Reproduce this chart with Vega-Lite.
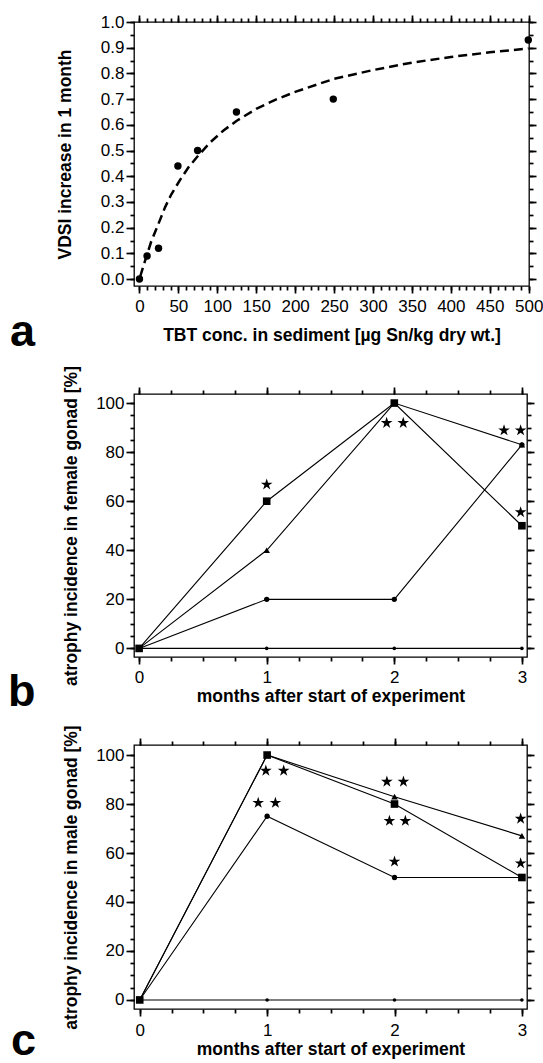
{
  "$schema": "https://vega.github.io/schema/vega-lite/v6.json",
  "padding": {"left": 7, "top": 12, "right": 0, "bottom": 0},
  "spacing": 8,
  "background": "white",
  "config": {
    "view": {"stroke": "black", "strokeWidth": 1.3},
    "font": "Liberation Sans",
    "axis": {
      "domain": false, "grid": false, "ticks": true, "tickColor": "black", "tickWidth": 1.7,
      "labelFont": "Liberation Sans", "labelFontSize": 17, "labelColor": "black",
      "labelOverlap": false, "labelFlush": false,
      "titleFont": "Liberation Sans", "titleFontSize": 17.5, "titleFontWeight": "bold", "titleColor": "black"
    }
  },
  "vconcat": [
    {
      "width": 395, "height": 264,
      "title": {"text": "a", "orient": "bottom", "anchor": "start", "frame": "group", "fontSize": 45, "fontWeight": "bold", "font": "Liberation Sans", "color": "black", "baseline": "alphabetic", "dx": -124, "offset": 2},
      "layer": [
        {
          "data": {"values": [
            {"x": 1, "y": 0.01}, {"x": 5, "y": 0.05}, {"x": 9, "y": 0.088}, {"x": 15, "y": 0.145},
            {"x": 24, "y": 0.212}, {"x": 33, "y": 0.28}, {"x": 41, "y": 0.33}, {"x": 52, "y": 0.385},
            {"x": 63, "y": 0.435}, {"x": 76, "y": 0.482}, {"x": 91, "y": 0.532}, {"x": 108, "y": 0.578},
            {"x": 125, "y": 0.616}, {"x": 150, "y": 0.662}, {"x": 175, "y": 0.698}, {"x": 200, "y": 0.728},
            {"x": 250, "y": 0.779}, {"x": 300, "y": 0.813}, {"x": 350, "y": 0.842}, {"x": 400, "y": 0.864},
            {"x": 450, "y": 0.882}, {"x": 500, "y": 0.897}
          ]},
          "mark": {"type": "line", "color": "black", "strokeWidth": 2.5, "strokeDash": [9, 5]},
          "encoding": {
            "x": {"field": "x", "type": "quantitative", "scale": {"domain": [-7, 500.4], "nice": false, "zero": false},
              "axis": {"orient": "bottom", "title": "TBT conc. in sediment [µg Sn/kg dry wt.]",
                "values": [0,50,100,150,200,250,300,350,400,450,500], "format": "d",
                "tickSize": 7, "labelPadding": 5, "titlePadding": 12}},
            "y": {"field": "y", "type": "quantitative", "scale": {"domain": [-0.027, 1.0], "nice": false, "zero": false},
              "axis": {"orient": "left", "title": "VDSI increase in 1 month",
                "values": [0,0.1,0.2,0.3,0.4,0.5,0.6,0.7,0.8,0.9,1], "format": ".1f",
                "tickSize": 8, "labelPadding": 2, "titlePadding": 26}}
          }
        },
        {
          "data": {"name": "pa"},
          "mark": {"type": "circle", "color": "black", "size": 55, "opacity": 1},
          "encoding": {
            "x": {"field": "x", "type": "quantitative",
              "axis": {"orient": "top", "title": null, "labels": false, "tickSize": 7,
                "values": [0,50,100,150,200,250,300,350,400,450,500]}},
            "y": {"field": "y", "type": "quantitative",
              "axis": {"orient": "right", "title": null, "labels": false, "tickSize": 7,
                "values": [0,0.1,0.2,0.3,0.4,0.5,0.6,0.7,0.8,0.9,1]}}
          }
        },
        {
          "data": {"name": "pa"},
          "mark": {"type": "circle", "color": "black", "size": 55, "opacity": 0},
          "encoding": {
            "x": {"field": "x", "type": "quantitative",
              "axis": {"orient": "bottom", "title": null, "labels": false, "tickSize": 4,
                "values": [0,10,20,30,40,50,60,70,80,90,100,110,120,130,140,150,160,170,180,190,200,210,220,230,240,250,260,270,280,290,300,310,320,330,340,350,360,370,380,390,400,410,420,430,440,450,460,470,480,490,500]}},
            "y": {"field": "y", "type": "quantitative",
              "axis": {"orient": "left", "title": null, "labels": false, "tickSize": 4,
                "values": [0,0.05,0.1,0.15,0.2,0.25,0.3,0.35,0.4,0.45,0.5,0.55,0.6,0.65,0.7,0.75,0.8,0.85,0.9,0.95,1]}}
          }
        },
        {
          "data": {"name": "pa"},
          "mark": {"type": "circle", "color": "black", "size": 55, "opacity": 0},
          "encoding": {
            "x": {"field": "x", "type": "quantitative",
              "axis": {"orient": "top", "title": null, "labels": false, "tickSize": 4,
                "values": [0,10,20,30,40,50,60,70,80,90,100,110,120,130,140,150,160,170,180,190,200,210,220,230,240,250,260,270,280,290,300,310,320,330,340,350,360,370,380,390,400,410,420,430,440,450,460,470,480,490,500]}},
            "y": {"field": "y", "type": "quantitative",
              "axis": {"orient": "right", "title": null, "labels": false, "tickSize": 4,
                "values": [0,0.05,0.1,0.15,0.2,0.25,0.3,0.35,0.4,0.45,0.5,0.55,0.6,0.65,0.7,0.75,0.8,0.85,0.9,0.95,1]}}
          }
        }
      ],
      "resolve": {"axis": {"x": "independent", "y": "independent"}}
    },
    {
      "width": 393, "height": 263,
      "title": {"text": "b", "orient": "bottom", "anchor": "start", "frame": "group", "fontSize": 45, "fontWeight": "bold", "font": "Liberation Sans", "color": "black", "baseline": "alphabetic", "dx": -126, "offset": 1},
      "layer": [
        {
          "data": {"name": "sb"},
          "mark": {"type": "line", "color": "black", "strokeWidth": 1.1},
          "encoding": {
            "detail": {"field": "s", "type": "nominal"},
            "x": {"field": "x", "type": "quantitative", "scale": {"domain": [-0.04, 3.04], "nice": false, "zero": false},
              "axis": {"orient": "bottom", "title": "months after start of experiment",
                "values": [0,1,2,3], "format": "d",
                "tickSize": 7, "labelPadding": 5, "titlePadding": 2}},
            "y": {"field": "y", "type": "quantitative", "scale": {"domain": [-3.5, 103.7], "nice": false, "zero": false},
              "axis": {"orient": "left", "title": "atrophy incidence in female gonad [%]",
                "values": [0,20,40,60,80,100], "format": "d",
                "tickSize": 8, "labelPadding": 2, "titlePadding": 15}}
          }
        },
        {
          "data": {"name": "sb"},
          "mark": {"type": "point", "filled": true, "color": "black", "opacity": 1},
          "encoding": {
            "x": {"field": "x", "type": "quantitative",
              "axis": {"orient": "top", "title": null, "labels": false, "tickSize": 7, "values": [0,1,2,3]}},
            "y": {"field": "y", "type": "quantitative",
              "axis": {"orient": "right", "title": null, "labels": false, "tickSize": 7, "values": [0,20,40,60,80,100]}},
            "shape": {"field": "s", "type": "nominal", "scale": {"domain": ["ctrl", "circle", "triangle", "square"], "range": ["circle", "circle", "triangle-up", "square"]}, "legend": null},
            "size": {"field": "s", "type": "ordinal", "scale": {"domain": ["ctrl", "circle", "triangle", "square"], "range": [13, 58, 125, 55]}, "legend": null}
          }
        },
        {
          "data": {"name": "stb"},
          "mark": {"type": "point", "filled": true, "color": "black", "opacity": 1, "size": 150,
            "shape": "M0,-1L0.2245,-0.309L0.951,-0.309L0.363,0.118L0.588,0.809L0,0.382L-0.588,0.809L-0.363,0.118L-0.951,-0.309L-0.2245,-0.309Z"},
          "encoding": {
            "x": {"field": "x", "type": "quantitative",
              "axis": {"orient": "bottom", "title": null, "labels": false, "tickSize": 4,
                "values": [0,0.25,0.5,0.75,1,1.25,1.5,1.75,2,2.25,2.5,2.75,3]}},
            "y": {"field": "y", "type": "quantitative",
              "axis": {"orient": "left", "title": null, "labels": false, "tickSize": 4,
                "values": [0,5,10,15,20,25,30,35,40,45,50,55,60,65,70,75,80,85,90,95,100]}}
          }
        },
        {
          "data": {"name": "stb"},
          "mark": {"type": "point", "filled": true, "color": "black", "opacity": 0, "size": 150},
          "encoding": {
            "x": {"field": "x", "type": "quantitative",
              "axis": {"orient": "top", "title": null, "labels": false, "tickSize": 4,
                "values": [0,0.25,0.5,0.75,1,1.25,1.5,1.75,2,2.25,2.5,2.75,3]}},
            "y": {"field": "y", "type": "quantitative",
              "axis": {"orient": "right", "title": null, "labels": false, "tickSize": 4,
                "values": [0,5,10,15,20,25,30,35,40,45,50,55,60,65,70,75,80,85,90,95,100]}}
          }
        }
      ],
      "resolve": {"axis": {"x": "independent", "y": "independent"}}
    },
    {
      "width": 393, "height": 264,
      "title": {"text": "c", "orient": "bottom", "anchor": "start", "frame": "group", "fontSize": 45, "fontWeight": "bold", "font": "Liberation Sans", "color": "black", "baseline": "alphabetic", "dx": -123, "offset": -2.5},
      "layer": [
        {
          "data": {"name": "sc"},
          "mark": {"type": "line", "color": "black", "strokeWidth": 1.1},
          "encoding": {
            "detail": {"field": "s", "type": "nominal"},
            "x": {"field": "x", "type": "quantitative", "scale": {"domain": [-0.045, 3.04], "nice": false, "zero": false},
              "axis": {"orient": "bottom", "title": "months after start of experiment",
                "values": [0,1,2,3], "format": "d",
                "tickSize": 7, "labelPadding": 6, "titlePadding": 2}},
            "y": {"field": "y", "type": "quantitative", "scale": {"domain": [-3.7, 104.1], "nice": false, "zero": false},
              "axis": {"orient": "left", "title": "atrophy incidence in male gonad [%]",
                "values": [0,20,40,60,80,100], "format": "d",
                "tickSize": 8, "labelPadding": 2, "titlePadding": 15}}
          }
        },
        {
          "data": {"name": "sc"},
          "mark": {"type": "point", "filled": true, "color": "black", "opacity": 1},
          "encoding": {
            "x": {"field": "x", "type": "quantitative",
              "axis": {"orient": "top", "title": null, "labels": false, "tickSize": 7, "values": [0,1,2,3]}},
            "y": {"field": "y", "type": "quantitative",
              "axis": {"orient": "right", "title": null, "labels": false, "tickSize": 7, "values": [0,20,40,60,80,100]}},
            "shape": {"field": "s", "type": "nominal", "scale": {"domain": ["ctrl", "circle", "triangle", "square"], "range": ["circle", "circle", "triangle-up", "square"]}, "legend": null},
            "size": {"field": "s", "type": "ordinal", "scale": {"domain": ["ctrl", "circle", "triangle", "square"], "range": [13, 58, 125, 55]}, "legend": null}
          }
        },
        {
          "data": {"name": "stc"},
          "mark": {"type": "point", "filled": true, "color": "black", "opacity": 1, "size": 150,
            "shape": "M0,-1L0.2245,-0.309L0.951,-0.309L0.363,0.118L0.588,0.809L0,0.382L-0.588,0.809L-0.363,0.118L-0.951,-0.309L-0.2245,-0.309Z"},
          "encoding": {
            "x": {"field": "x", "type": "quantitative",
              "axis": {"orient": "bottom", "title": null, "labels": false, "tickSize": 4,
                "values": [0,0.25,0.5,0.75,1,1.25,1.5,1.75,2,2.25,2.5,2.75,3]}},
            "y": {"field": "y", "type": "quantitative",
              "axis": {"orient": "left", "title": null, "labels": false, "tickSize": 4,
                "values": [0,5,10,15,20,25,30,35,40,45,50,55,60,65,70,75,80,85,90,95,100]}}
          }
        },
        {
          "data": {"name": "stc"},
          "mark": {"type": "point", "filled": true, "color": "black", "opacity": 0, "size": 150},
          "encoding": {
            "x": {"field": "x", "type": "quantitative",
              "axis": {"orient": "top", "title": null, "labels": false, "tickSize": 4,
                "values": [0,0.25,0.5,0.75,1,1.25,1.5,1.75,2,2.25,2.5,2.75,3]}},
            "y": {"field": "y", "type": "quantitative",
              "axis": {"orient": "right", "title": null, "labels": false, "tickSize": 4,
                "values": [0,5,10,15,20,25,30,35,40,45,50,55,60,65,70,75,80,85,90,95,100]}}
          }
        }
      ],
      "resolve": {"axis": {"x": "independent", "y": "independent"}}
    }
  ],
  "datasets": {
    "pa": [
      {"x": 0, "y": 0}, {"x": 9.8, "y": 0.09}, {"x": 24.5, "y": 0.12}, {"x": 49.4, "y": 0.44},
      {"x": 74.7, "y": 0.5}, {"x": 124.6, "y": 0.65}, {"x": 249, "y": 0.7}, {"x": 499.5, "y": 0.93}
    ],
    "sb": [
      {"x": 0, "y": 0, "s": "ctrl"}, {"x": 1, "y": 0, "s": "ctrl"}, {"x": 2, "y": 0, "s": "ctrl"}, {"x": 3, "y": 0, "s": "ctrl"},
      {"x": 0, "y": 0, "s": "circle"}, {"x": 1, "y": 20, "s": "circle"}, {"x": 2, "y": 20, "s": "circle"}, {"x": 3, "y": 83, "s": "circle"},
      {"x": 0, "y": 0, "s": "triangle"}, {"x": 1, "y": 40, "s": "triangle"}, {"x": 2, "y": 100, "s": "triangle"}, {"x": 3, "y": 83, "s": "triangle"},
      {"x": 0, "y": 0, "s": "square"}, {"x": 1, "y": 60, "s": "square"}, {"x": 2, "y": 100, "s": "square"}, {"x": 3, "y": 50, "s": "square"}
    ],
    "stb": [
      {"x": 1.0, "y": 66.8}, {"x": 1.94, "y": 91.9}, {"x": 2.07, "y": 91.9},
      {"x": 2.86, "y": 88.9}, {"x": 2.99, "y": 88.9}, {"x": 2.99, "y": 55.5}
    ],
    "sc": [
      {"x": 0, "y": 0, "s": "ctrl"}, {"x": 1, "y": 0, "s": "ctrl"}, {"x": 2, "y": 0, "s": "ctrl"}, {"x": 3, "y": 0, "s": "ctrl"},
      {"x": 0, "y": 0, "s": "circle"}, {"x": 1, "y": 75, "s": "circle"}, {"x": 2, "y": 50, "s": "circle"}, {"x": 3, "y": 50, "s": "circle"},
      {"x": 0, "y": 0, "s": "triangle"}, {"x": 1, "y": 100, "s": "triangle"}, {"x": 2, "y": 83, "s": "triangle"}, {"x": 3, "y": 67, "s": "triangle"},
      {"x": 0, "y": 0, "s": "square"}, {"x": 1, "y": 100, "s": "square"}, {"x": 2, "y": 80, "s": "square"}, {"x": 3, "y": 50, "s": "square"}
    ],
    "stc": [
      {"x": 0.99, "y": 93.6}, {"x": 1.13, "y": 93.6}, {"x": 0.93, "y": 80.5}, {"x": 1.065, "y": 80.5},
      {"x": 1.94, "y": 89.1}, {"x": 2.07, "y": 89.1}, {"x": 1.96, "y": 73.1}, {"x": 2.085, "y": 73.1},
      {"x": 2.0, "y": 56.5}, {"x": 2.99, "y": 74}, {"x": 2.99, "y": 55.8}
    ]
  }
}
